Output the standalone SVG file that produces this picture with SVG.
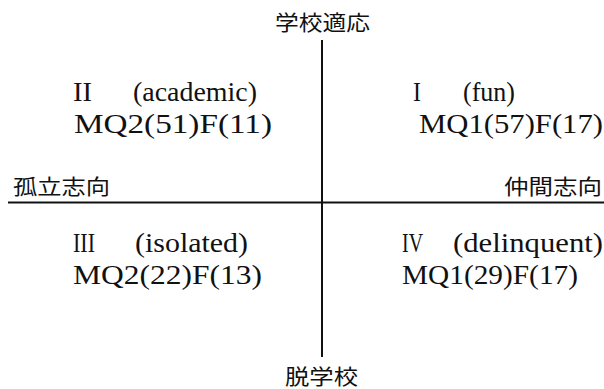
<svg xmlns="http://www.w3.org/2000/svg" width="604" height="389" viewBox="0 0 604 389">
<style>
.lat{font-family:"Liberation Serif","Times New Roman",serif;font-size:27px;fill:#111}
.jp{font-family:"Noto Sans CJK JP","Noto Sans CJK SC",sans-serif;font-size:21px;fill:#111}
.ax{stroke:#111;stroke-width:2;fill:none}
</style>
<rect width="604" height="389" fill="#fff"/>
<g id="connectors">
<line class="ax" x1="322" y1="40" x2="322" y2="357"/>
<line class="ax" x1="8" y1="202.5" x2="604" y2="202.5"/>
</g>
<g id="axis-top"><text class="jp" x="275" y="30" textLength="95" lengthAdjust="spacingAndGlyphs">学校適応</text></g>
<g id="axis-bottom"><text class="jp" x="285" y="384" textLength="73" lengthAdjust="spacingAndGlyphs">脱学校</text></g>
<g id="axis-left"><text class="jp" x="13" y="194" textLength="97" lengthAdjust="spacingAndGlyphs">孤立志向</text></g>
<g id="axis-right"><text class="jp" x="504" y="194" textLength="98" lengthAdjust="spacingAndGlyphs">仲間志向</text></g>
<g id="quadrant-2">
<text class="lat" x="73" y="101" textLength="19" lengthAdjust="spacingAndGlyphs">II</text>
<text class="lat" x="133" y="101" textLength="124" lengthAdjust="spacingAndGlyphs">(academic)</text>
<text class="lat" x="74" y="133" textLength="198" lengthAdjust="spacingAndGlyphs">MQ2(51)F(11)</text>
</g>
<g id="quadrant-1">
<text class="lat" x="413" y="101" textLength="8" lengthAdjust="spacingAndGlyphs">I</text>
<text class="lat" x="463" y="101" textLength="52" lengthAdjust="spacingAndGlyphs">(fun)</text>
<text class="lat" x="419" y="133" textLength="184" lengthAdjust="spacingAndGlyphs">MQ1(57)F(17)</text>
</g>
<g id="quadrant-3">
<text class="lat" x="73" y="252" textLength="22" lengthAdjust="spacingAndGlyphs">III</text>
<text class="lat" x="135" y="252" textLength="113" lengthAdjust="spacingAndGlyphs">(isolated)</text>
<text class="lat" x="73" y="284" textLength="189" lengthAdjust="spacingAndGlyphs">MQ2(22)F(13)</text>
</g>
<g id="quadrant-4">
<text class="lat" x="402" y="252" textLength="21" lengthAdjust="spacingAndGlyphs">IV</text>
<text class="lat" x="453" y="252" textLength="150" lengthAdjust="spacingAndGlyphs">(delinquent)</text>
<text class="lat" x="402" y="284" textLength="176" lengthAdjust="spacingAndGlyphs">MQ1(29)F(17)</text>
</g>
</svg>
